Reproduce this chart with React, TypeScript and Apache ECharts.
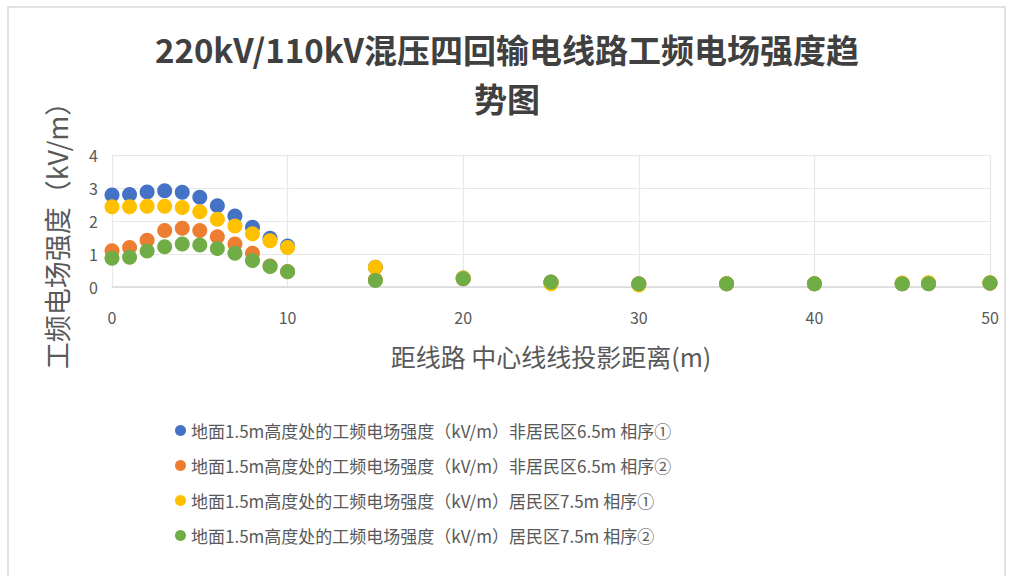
import React, { useEffect, useRef } from "react";
import * as echarts from "echarts";

// Distance from the line centre (m)
const distances = [0, 1, 2, 3, 4, 5, 6, 7, 8, 9, 10, 15, 20, 25, 30, 35, 40, 45, 46.5, 50];

const seriesNames = [
  "地面1.5m高度处的工频电场强度（kV/m）非居民区6.5m 相序①",
  "地面1.5m高度处的工频电场强度（kV/m）非居民区6.5m 相序②",
  "地面1.5m高度处的工频电场强度（kV/m）居民区7.5m 相序①",
  "地面1.5m高度处的工频电场强度（kV/m）居民区7.5m 相序②",
];

// Field strength (kV/m) at 1.5 m above ground
const nonResidentialPhase1 = [2.79, 2.8, 2.88, 2.92, 2.87, 2.72, 2.46, 2.15, 1.81, 1.48, 1.24, 0.6, 0.27, 0.13, 0.08, 0.1, 0.1, 0.1, 0.11, 0.12];
const nonResidentialPhase2 = [1.1, 1.2, 1.42, 1.71, 1.78, 1.71, 1.52, 1.3, 1.02, 0.64, 0.47, 0.22, 0.25, 0.15, 0.1, 0.1, 0.1, 0.1, 0.1, 0.11];
const residentialPhase1 = [2.43, 2.43, 2.45, 2.45, 2.41, 2.28, 2.05, 1.85, 1.61, 1.4, 1.2, 0.6, 0.27, 0.1, 0.06, 0.1, 0.1, 0.12, 0.13, 0.13];
const residentialPhase2 = [0.87, 0.9, 1.09, 1.22, 1.3, 1.27, 1.17, 1.02, 0.8, 0.62, 0.46, 0.2, 0.25, 0.15, 0.1, 0.1, 0.1, 0.1, 0.1, 0.12];

const seriesValues = [nonResidentialPhase1, nonResidentialPhase2, residentialPhase1, residentialPhase2];
const seriesColors = ["#4472C4", "#ED7D31", "#FFC000", "#70AD47"];

const yTicks = { min: 0, max: 4, interval: 1 };
const xTicks = { min: 0, max: 50, interval: 10 };

const FONT = "'Noto Sans CJK SC', 'Noto Sans', sans-serif";

export default function App() {
  const ref = useRef<HTMLDivElement>(null);

  useEffect(() => {
    if (!ref.current) return;
    const chart = echarts.init(ref.current, undefined, { renderer: "svg" });
    chart.setOption({
      animation: false,
      backgroundColor: "#ffffff",
      textStyle: { fontFamily: FONT },
      title: {
        text: "220kV/110kV混压四回输电线路工频电场强度趋\n势图",
        left: "center",
        top: 19,
        textStyle: {
          fontFamily: FONT,
          fontSize: 33,
          fontWeight: "bold",
          color: "#404040",
          lineHeight: 49,
        },
      },
      graphic: [
        {
          type: "rect",
          shape: { x: 8, y: 7, width: 997, height: 580 },
          style: { fill: "none", stroke: "#d9d9d9", lineWidth: 1.5 },
          silent: true,
        },
      ],
      grid: { left: 112, right: 24, top: 155, bottom: 289, containLabel: false },
      legend: {
        orient: "vertical",
        left: 170,
        top: 417,
        itemGap: 18,
        itemWidth: 11,
        itemHeight: 11,
        icon: "circle",
        textStyle: { fontFamily: FONT, fontSize: 17, color: "#595959" },
        data: seriesNames,
      },
      xAxis: {
        type: "value",
        min: xTicks.min,
        max: xTicks.max,
        interval: xTicks.interval,
        name: "距线路 中心线线投影距离(m)",
        nameLocation: "middle",
        nameGap: 56,
        nameTextStyle: { fontFamily: FONT, fontSize: 25, color: "#595959" },
        axisLine: { show: true, lineStyle: { color: "#d9d9d9", width: 1.5 } },
        axisTick: { show: false },
        axisLabel: { margin: 22, fontSize: 16, color: "#595959", fontFamily: FONT },
        splitLine: { show: true, lineStyle: { color: "#e8e8e8", width: 1.2 } },
      },
      yAxis: {
        type: "value",
        min: yTicks.min,
        max: yTicks.max,
        interval: yTicks.interval,
        name: "工频电场强度（kV/m）",
        nameLocation: "middle",
        nameRotate: 90,
        nameGap: 42,
        nameTextStyle: { fontFamily: FONT, fontSize: 27, color: "#595959", padding: [0, 16, 0, 0] },
        axisLine: { show: false },
        axisTick: { show: false },
        axisLabel: { margin: 14, fontSize: 16, color: "#595959", fontFamily: FONT },
        splitLine: { show: true, lineStyle: { color: "#e8e8e8", width: 1.2 } },
      },
      series: seriesNames.map((name, i) => ({
        name,
        type: "scatter",
        symbol: "circle",
        symbolSize: 15,
        itemStyle: { color: seriesColors[i], opacity: 1 },
        data: distances.map((d, j) => [d, seriesValues[i][j]]),
      })),
    });
    return () => chart.dispose();
  }, []);

  return (
    <div
      ref={ref}
      style={{ position: "fixed", left: 0, top: 0, width: 1014, height: 576 }}
    />
  );
}
